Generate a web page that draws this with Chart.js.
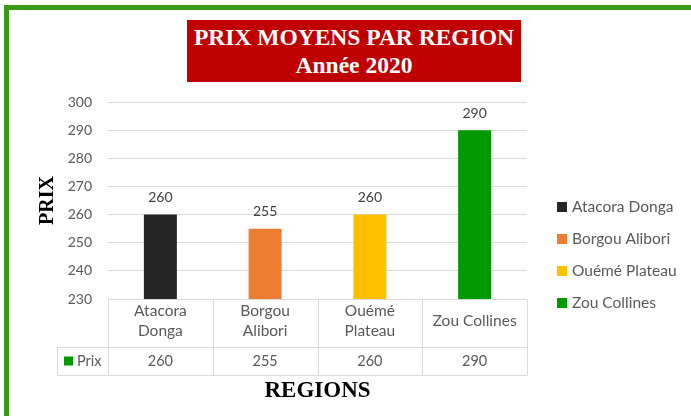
<!DOCTYPE html>
<html>
<head>
<meta charset="utf-8">
<script src="https://cdn.jsdelivr.net/npm/chart.js@4.4.0/dist/chart.umd.min.js"></script>
<style>
html, body { margin: 0; padding: 0; background: #fff; }
#wrap { position: relative; width: 691px; height: 416px; overflow: hidden; }
#frame { position: absolute; left: 4px; top: 5px; width: 720px; height: 450px; border: 5px solid #3A9A16; box-sizing: border-box; }
#titleBox { position: absolute; left: 187px; top: 20px; width: 334px; height: 62px; background: #C00000; color: #fff;
  font-family: "Liberation Serif", serif; font-weight: bold; font-size: 23.5px; line-height: 28px; text-align: center;
  padding-top: 3px; box-sizing: border-box; }
canvas { position: absolute; left: 0; top: 0; }
</style>
</head>
<body>
<div id="wrap">
  <div id="frame"></div>
  <canvas id="prixChart" width="691" height="416"></canvas>
  <div id="titleBox">PRIX MOYENS PAR REGION<br>Année 2020</div>
</div>
<script>
const categories = [['Atacora', 'Donga'], ['Borgou', 'Alibori'], ['Ouémé', 'Plateau'], 'Zou Collines'];
const legendNames = ['Atacora Donga', 'Borgou Alibori', 'Ouémé Plateau', 'Zou Collines'];
const seriesName = 'Prix';
const prix = [260, 255, 260, 290];
const barColors = ['#262626', '#ED7D31', '#FFC000', '#009900'];
const yMin = 230, yMax = 300, yStep = 10;

const fontFamily = 'Lato, "Open Sans", sans-serif';
const tickFont = { family: fontFamily, size: 14 };
const textColor = '#595959';
const lineColor = '#D9D9D9';

// data labels above the bars
const valueLabels = {
    id: 'valueLabels',
    afterDatasetsDraw(chart) {
        const ctx = chart.ctx;
        const meta = chart.getDatasetMeta(0);
        ctx.save();
        ctx.font = '14px ' + fontFamily;
        ctx.fillStyle = '#404040';
        ctx.textAlign = 'center';
        ctx.textBaseline = 'middle';
        meta.data.forEach((bar, i) => {
            ctx.fillText(prix[i], bar.x, bar.y - 17);
        });
        ctx.restore();
    }
};

// data table under the plot
const dataTable = {
    id: 'dataTable',
    afterDraw(chart) {
        const ctx = chart.ctx;
        const xs = chart.scales.x;
        const area = chart.chartArea;
        const n = categories.length;
        const colW = xs.width / n;
        const top = Math.round(area.bottom) + 0.5;
        const mid = top + 48;
        const bot = top + 76;
        const left = 57.5;
        ctx.save();
        ctx.strokeStyle = lineColor;
        ctx.lineWidth = 1;
        ctx.beginPath();
        ctx.moveTo(xs.left, top); ctx.lineTo(xs.right, top);
        ctx.moveTo(left, mid); ctx.lineTo(xs.right, mid);
        ctx.moveTo(left, bot); ctx.lineTo(xs.right, bot);
        ctx.moveTo(left, mid); ctx.lineTo(left, bot);
        for (let i = 0; i <= n; i++) {
            const x = Math.round(xs.left + i * colW) + 0.5;
            ctx.moveTo(x, top); ctx.lineTo(x, bot);
        }
        ctx.stroke();

        const rowY = (mid + bot) / 2;
        ctx.fillStyle = barColors[3];
        ctx.fillRect(64, rowY - 5, 9, 9);
        ctx.font = '14.5px ' + fontFamily;
        ctx.fillStyle = textColor;
        ctx.textBaseline = 'middle';
        ctx.textAlign = 'left';
        ctx.fillText(seriesName, 77, rowY);
        ctx.textAlign = 'center';
        prix.forEach((v, i) => {
            ctx.fillText(v, xs.getPixelForValue(i), rowY);
        });
        ctx.restore();
    }
};

// legend on the right, one entry per region
const sideLegend = {
    id: 'sideLegend',
    afterDraw(chart) {
        const ctx = chart.ctx;
        ctx.save();
        ctx.font = '15.5px ' + fontFamily;
        ctx.textBaseline = 'middle';
        ctx.textAlign = 'left';
        legendNames.forEach((name, i) => {
            const y = 207 + i * 32;
            ctx.fillStyle = barColors[i];
            ctx.fillRect(557, y - 5, 10, 10);
            ctx.fillStyle = textColor;
            ctx.fillText(name, 572, y);
        });
        ctx.restore();
    }
};

const ctx = document.getElementById('prixChart').getContext('2d');
new Chart(ctx, {
    type: 'bar',
    data: {
        labels: categories,
        datasets: [{
            label: seriesName,
            data: prix,
            backgroundColor: barColors,
            categoryPercentage: 1,
            barPercentage: 0.315
        }]
    },
    options: {
        responsive: false,
        animation: false,
        layout: { padding: { left: 36, right: 164, top: 102, bottom: 7 } },
        plugins: {
            legend: { display: false },
            tooltip: { enabled: false }
        },
        scales: {
            x: {
                grid: { display: false },
                border: { display: false },
                ticks: {
                    font: { family: fontFamily, size: 15.5, lineHeight: 1.3 },
                    color: textColor,
                    padding: 4,
                    crossAlign: 'center',
                    maxRotation: 0,
                    autoSkip: false
                },
                title: {
                    display: true,
                    text: 'REGIONS',
                    font: { family: '"Liberation Serif", serif', weight: 'bold', size: 23 },
                    color: '#000',
                    padding: { top: 0, bottom: 4 }
                },
                afterFit(scale) { scale.height = 110; }
            },
            y: {
                min: yMin,
                max: yMax,
                ticks: { stepSize: yStep, font: tickFont, color: textColor, padding: 16 },
                grid: { color: lineColor, drawTicks: false },
                border: { display: false },
                title: {
                    display: true,
                    text: 'PRIX',
                    font: { family: '"Liberation Serif", serif', weight: 'bold', size: 20 },
                    color: '#000',
                    padding: 0
                },
                afterFit(scale) { scale.width = 72; }
            }
        }
    },
    plugins: [valueLabels, dataTable, sideLegend]
});
</script>
</body>
</html>
